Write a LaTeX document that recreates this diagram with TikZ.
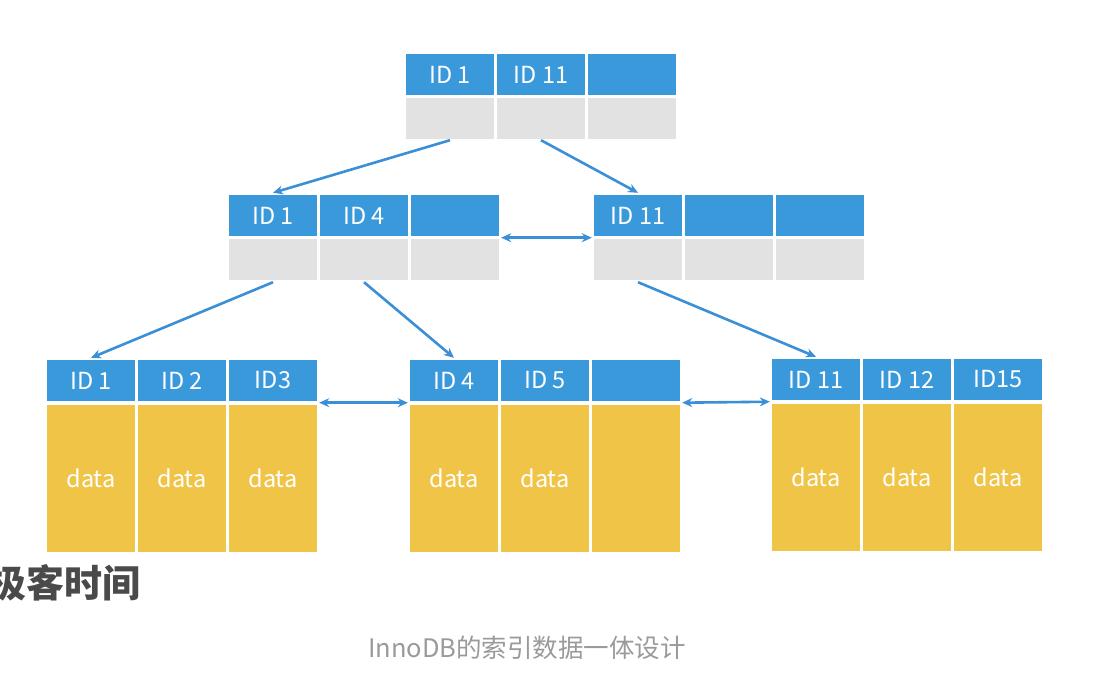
\documentclass[tikz,border=0pt]{standalone}
\usepackage{fontspec}
\setmainfont{Noto Sans CJK SC}
\usetikzlibrary{arrows.meta,positioning}
\definecolor{hblue}{HTML}{3A99DB}
\definecolor{ablue}{HTML}{3A8FD6}
\definecolor{cgrey}{HTML}{E2E2E2}
\definecolor{cyell}{HTML}{F0C446}
\definecolor{logo}{HTML}{4A4A4A}
\definecolor{capt}{HTML}{9A9A9A}
\tikzset{
  hcell/.style={fill=hblue, minimum width=88pt, minimum height=41pt, inner sep=0pt, text=white, font=\fontsize{23.5}{26}\selectfont},
  gcell/.style={fill=cgrey, minimum width=88pt, minimum height=41pt, inner sep=0pt},
  ycell/.style={fill=cyell, minimum width=88pt, minimum height=147pt, inner sep=0pt, text=white, font=\fontsize{23.5}{26}\selectfont},
  link/.style={draw=ablue, line width=2.6pt, -{Stealth[length=10pt,width=9pt]}},
  dlink/.style={draw=ablue, line width=2.6pt, {Stealth[length=10pt,width=9pt]}-{Stealth[length=10pt,width=9pt]}, shorten <=2pt, shorten >=2pt},
}
% #1 prefix, #2 left x, #3 top y, #4-#6 labels
\newcommand{\inode}[6]{%
  \node[hcell] (#1-h1) at (#2+44, #3+20.5) {#4};
  \node[hcell] (#1-h2) at (#2+135, #3+20.5) {#5};
  \node[hcell] (#1-h3) at (#2+226, #3+20.5) {#6};
  \node[gcell] (#1-g1) at (#2+44, #3+64.5) {};
  \node[gcell] (#1-g2) at (#2+135, #3+64.5) {};
  \node[gcell] (#1-g3) at (#2+226, #3+64.5) {};
}
\newcommand{\lnode}[9]{%
  \node[hcell] (#1-h1) at (#2+44, #3+20.5) {#4};
  \node[hcell] (#1-h2) at (#2+135, #3+20.5) {#5};
  \node[hcell] (#1-h3) at (#2+226, #3+20.5) {#6};
  \node[ycell] (#1-y1) at (#2+44, #3+118.5) {#7};
  \node[ycell] (#1-y2) at (#2+135, #3+118.5) {#8};
  \node[ycell] (#1-y3) at (#2+226, #3+118.5) {#9};
}
\begin{document}
\begin{tikzpicture}[x=1pt,y=-1pt]
\useasboundingbox (0,0) rectangle (1094,686);
\inode{t}{406}{54}{ID 1}{ID 11}{}
\inode{ml}{229}{195}{ID 1}{ID 4}{}
\inode{mr}{594}{195}{ID 11}{}{}
\lnode{bl}{47}{360}{ID 1}{ID 2}{ID3}{data}{data}{data}
\lnode{bm}{410}{360}{ID 4}{ID 5}{}{data}{data}{}
\lnode{br}{772}{359}{ID 11}{ID 12}{ID15}{data}{data}{data}
% tree links
\draw[link] ([yshift=-1pt]t-g1.south) -- ([yshift=2pt]ml-h1.north);
\draw[link] ([yshift=-1pt]t-g2.south) -- ([yshift=2pt]mr-h1.north);
\draw[link] ([yshift=-2pt]ml-g1.south) -- ([yshift=2pt]bl-h1.north);
\draw[link] ([yshift=-2pt]ml-g2.south) -- ([yshift=2pt]bm-h1.north);
\draw[link] ([yshift=-2pt]mr-g1.south) -- ([yshift=2pt]br-h1.north);
% sibling links
\draw[dlink] ([yshift=-1.5pt]ml-h3.south east) -- ([yshift=-1.5pt]mr-h1.south west);
\draw[dlink] ([yshift=-1.5pt]bl-h3.south east) -- ([yshift=-1.5pt]bm-h1.south west);
\draw[dlink] ([yshift=-1.5pt]bm-h3.south east) -- ([yshift=-1.5pt]br-h1.south west);
% texts
\node[anchor=west, inner sep=0pt, text=logo, font=\fontsize{38}{42}\selectfont\bfseries] (logo) at (-12,583) {极客时间};
\node[inner sep=0pt, text=capt, font=\fontsize{25.5}{28}\selectfont] (caption) at (527,648) {InnoDB的索引数据一体设计};
\end{tikzpicture}
\end{document}
